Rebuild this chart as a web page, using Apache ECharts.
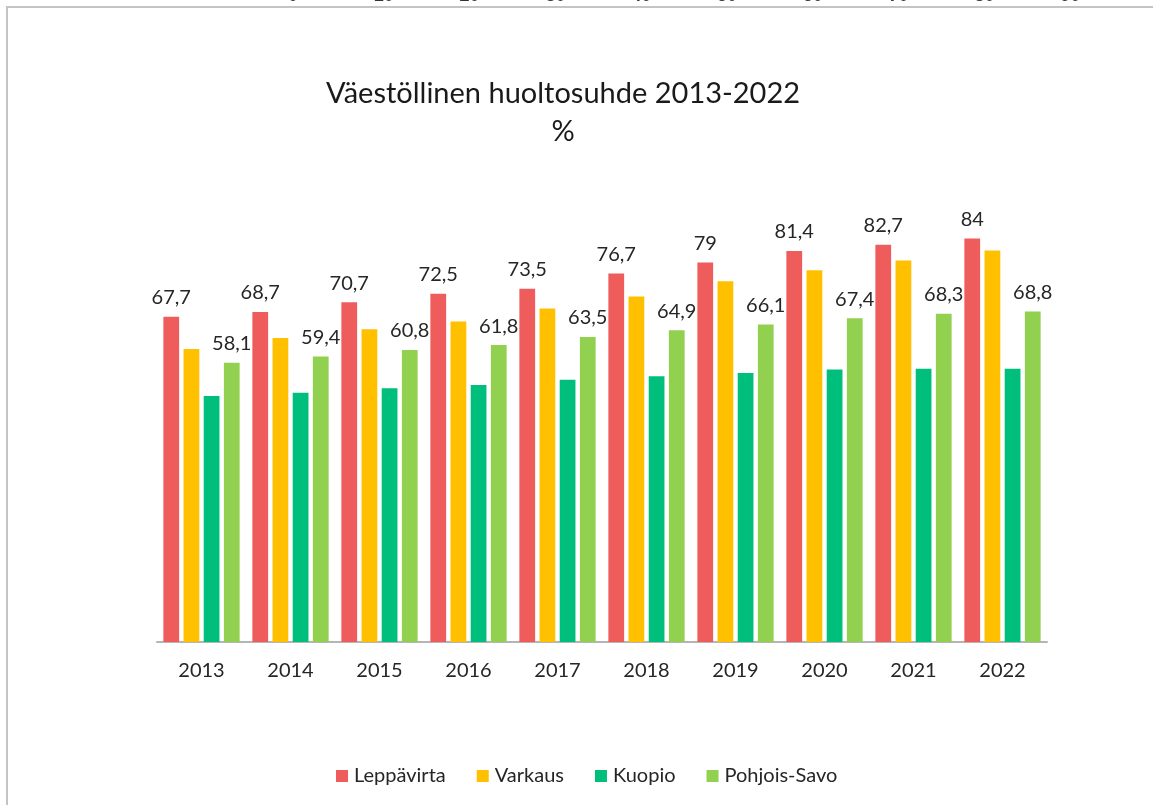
<!DOCTYPE html>
<html>
<head>
<meta charset="utf-8">
<script src="https://cdn.jsdelivr.net/npm/echarts@6/dist/echarts.min.js"></script>
<style>
html,body{margin:0;padding:0;background:#fff;}
#chart{width:1153px;height:805px;}
</style>
</head>
<body>
<div id="chart"></div>
<script>
const categories = ['2013','2014','2015','2016','2017','2018','2019','2020','2021','2022'];
const leppavirta = [67.7, 68.7, 70.7, 72.5, 73.5, 76.7, 79, 81.4, 82.7, 84];
const varkaus = [61.0, 63.3, 65.1, 66.7, 69.4, 71.9, 75.1, 77.4, 79.4, 81.5];
const kuopio = [51.2, 51.9, 52.8, 53.5, 54.6, 55.3, 56.0, 56.7, 56.9, 56.9];
const pohjoisSavo = [58.1, 59.4, 60.8, 61.8, 63.5, 64.9, 66.1, 67.4, 68.3, 68.8];
const seriesNames = ['Leppävirta', 'Varkaus', 'Kuopio', 'Pohjois-Savo'];
const topCutLabels = ['0','10','20','30','40','50','60','70','80','90'];

const FONT = 'Lato';
const colors = ['#EE5D5B', '#FFC000', '#00BE7B', '#92D050'];
const labelFmt = p => String(p.value).replace('.', ',');

function mkSeries(name, data, idx, showLabel) {
  return {
    name: name,
    type: 'bar',
    data: data,
    barGap: '28%',
    barCategoryGap: '14.3%',
    itemStyle: { color: colors[idx] },
    label: {
      show: showLabel,
      position: 'top',
      distance: 9,
      fontFamily: FONT,
      fontSize: 20,
      color: '#262626',
      formatter: labelFmt
    },
    emphasis: { disabled: true }
  };
}

const chart = echarts.init(document.getElementById('chart'), null, { renderer: 'canvas' });

const topGraphics = topCutLabels.map((t, i) => ({
  type: 'text',
  left: 288 + i * 85.8,
  top: -13,
  style: { text: t, fontFamily: 'Liberation Sans', fontWeight: 'bold', fontSize: 18, fill: '#333' },
  silent: true
}));

chart.setOption({
  animation: false,
  backgroundColor: '#fff',
  title: {
    text: 'Väestöllinen huoltosuhde 2013-2022\n%',
    left: 558,
    textAlign: 'center',
    top: 70,
    textStyle: { fontFamily: FONT, fontSize: 29, fontWeight: 'normal', color: '#1a1a1a', lineHeight: 38 }
  },
  legend: {
    data: seriesNames,
    bottom: 14,
    left: 331,
    itemWidth: 12,
    itemHeight: 12,
    itemGap: 31,
    icon: 'rect',
    textStyle: { fontFamily: FONT, fontSize: 20, color: '#262626', padding: [0, 0, 0, 1] }
  },
  grid: { left: 157, right: 106, top: 209.6, bottom: 163 },
  xAxis: {
    type: 'category',
    data: categories,
    axisLine: { lineStyle: { color: '#b5b5b5', width: 2 } },
    axisTick: { show: false },
    axisLabel: { fontFamily: FONT, fontSize: 20, color: '#262626', margin: 19 }
  },
  yAxis: {
    type: 'value',
    min: 0,
    max: 90,
    interval: 10,
    show: false,
    splitLine: { show: false }
  },
  graphic: [
    {
      type: 'rect',
      shape: { x: 7, y: 7, width: 1200, height: 900 },
      style: { fill: 'none', stroke: '#c4c4c4', lineWidth: 2 },
      silent: true
    }
  ].concat(topGraphics),
  series: [
    mkSeries(seriesNames[0], leppavirta, 0, true),
    mkSeries(seriesNames[1], varkaus, 1, false),
    mkSeries(seriesNames[2], kuopio, 2, false),
    mkSeries(seriesNames[3], pohjoisSavo, 3, true)
  ]
});
</script>
</body>
</html>
